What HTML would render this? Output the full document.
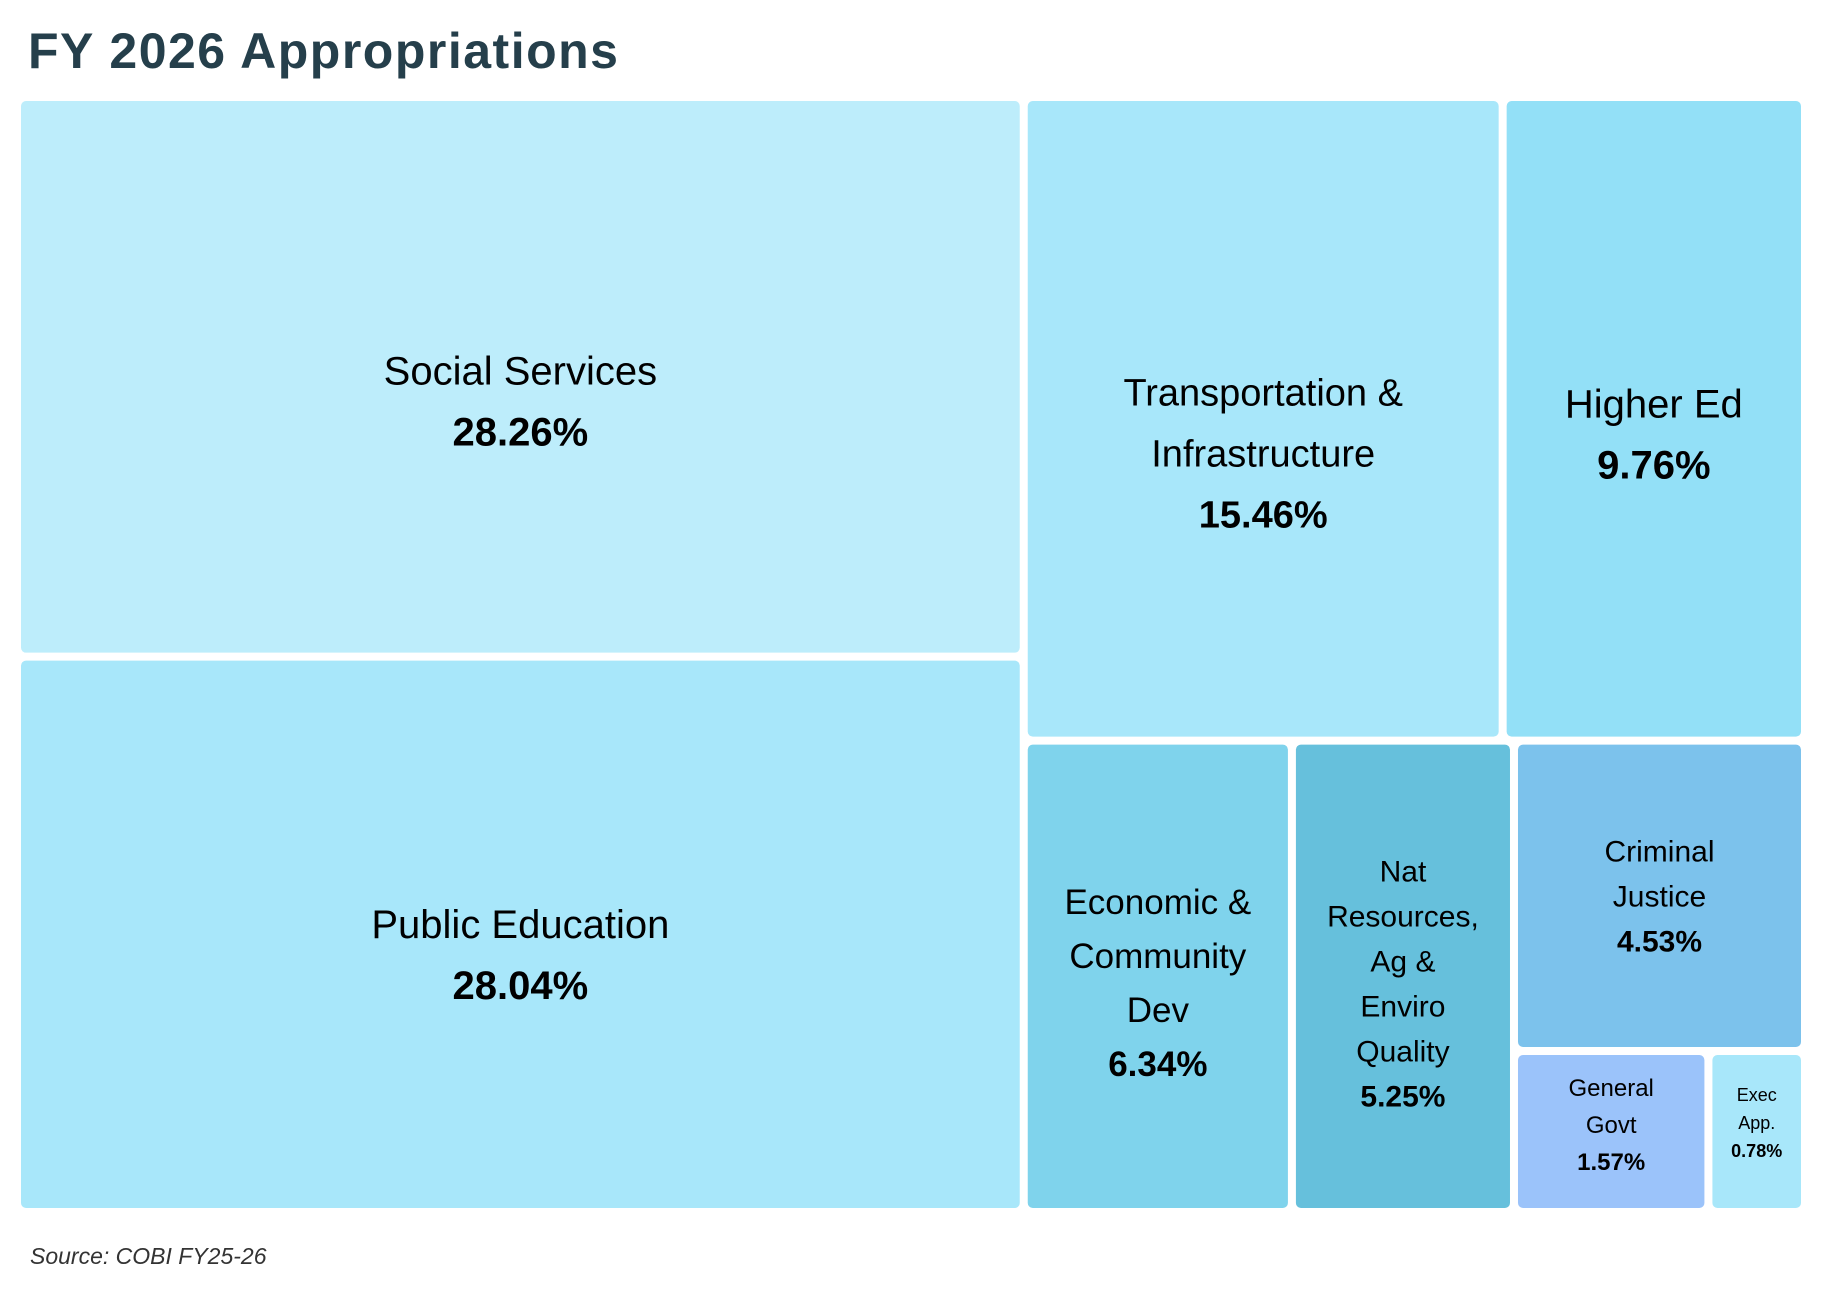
<!DOCTYPE html>
<html><head><meta charset="utf-8">
<style>
html,body{margin:0;padding:0;background:#fff;}
body{width:1822px;height:1290px;overflow:hidden;font-family:"Liberation Sans",sans-serif;}
#title{position:absolute;left:28px;top:22px;font-size:50px;font-weight:bold;color:#253f4b;letter-spacing:1.5px;}
#source{position:absolute;left:30px;top:1243px;font-size:23px;font-style:italic;color:#333;}
svg{position:absolute;left:0;top:0;}
</style></head>
<body>
<div id="title">FY 2026 Appropriations</div>
<svg id="chart" width="1822" height="1290"></svg>
<div id="source">Source: COBI FY25-26</div>
<script>
const names = ["Social Services","Public Education","Transportation & Infrastructure","Higher Ed","Economic & Community Dev","Nat Resources, Ag & Enviro Quality","Criminal Justice","General Govt","Exec App."];
const values = [28.26,28.04,15.46,9.76,6.34,5.25,4.53,1.57,0.78];
const labelLines = [["Social Services"],["Public Education"],["Transportation &","Infrastructure"],["Higher Ed"],["Economic &","Community","Dev"],["Nat","Resources,","Ag &","Enviro","Quality"],["Criminal","Justice"],["General","Govt"],["Exec","App."]];
const colors = ["#bdedfb","#a8e7fa","#a8e7fa","#93e0f7","#7fd3ec","#66c0dc","#7cc2ec","#9bc3fa","#a8e7fa"];
const fontSizes = [40,40,38,40,35,30,30,24,18];
const lineGaps = [61,61,61,61,54,45,45,37,28];
const yOffsets = [12,8,22,3,-6,-5,-12,-19,-21];

const svg = document.getElementById('chart');
const NS = 'http://www.w3.org/2000/svg';
const X0=17, Y0=97, W=1788, H=1115, GAP=4;
const rects = [];
function sum(idx){return idx.reduce((s,i)=>s+values[i],0);}
function split(groups,x,y,w,h,horizontal){
  const tot = groups.reduce((s,g)=>s+sum(g.idx),0);
  let off=0;
  groups.forEach(g=>{
    const f=sum(g.idx)/tot;
    if(horizontal){ g.cell=[x+off,y,w*f,h]; off+=w*f; }
    else { g.cell=[x,y+off,w,h*f]; off+=h*f; }
  });
}
function layout(node,x,y,w,h){
  if(node.leaf!==undefined){ rects[node.leaf]=[x,y,w,h]; return; }
  split(node.children,x,y,w,h,node.horizontal);
  node.children.forEach(c=>layout(c,...c.cell));
}
function L(i){return {leaf:i,idx:[i]};}
function N(h,ch){return {horizontal:h,children:ch,idx:ch.flatMap(c=>c.idx)};}
const tree = N(true,[
  N(false,[L(0),L(1)]),
  N(false,[
    N(true,[L(2),L(3)]),
    N(true,[L(4),L(5),N(false,[L(6),N(true,[L(7),L(8)])])])
  ])
]);
layout(tree,X0,Y0,W,H);

rects.forEach((r,i)=>{
  const g=document.createElementNS(NS,'g');
  
  
  const rc=document.createElementNS(NS,'rect');
  rc.setAttribute('x',r[0]+GAP);rc.setAttribute('y',r[1]+GAP);
  rc.setAttribute('width',r[2]-2*GAP);rc.setAttribute('height',r[3]-2*GAP);
  rc.setAttribute('rx',5);rc.setAttribute('fill',colors[i]);
  g.appendChild(rc);
  const lines=labelLines[i].concat([values[i].toFixed(2)+'%']);
  const gap=lineGaps[i], fs=fontSizes[i];
  const cx=r[0]+r[2]/2, cy=r[1]+r[3]/2+12+yOffsets[i];
  const startY=cy-(lines.length-1)*gap/2;
  lines.forEach((t,k)=>{
    const tx=document.createElementNS(NS,'text');
    tx.setAttribute('x',cx);tx.setAttribute('y',startY+k*gap+fs*0.36);
    tx.setAttribute('text-anchor','middle');
    tx.setAttribute('font-size',fs);
    tx.setAttribute('font-family','"Liberation Sans", sans-serif');
    tx.setAttribute('fill','#000');
    if(k===lines.length-1){tx.setAttribute('font-weight','bold');}
    
    
    tx.textContent=t;
    g.appendChild(tx);
  });
  svg.appendChild(g);
});
</script>
</body></html>
